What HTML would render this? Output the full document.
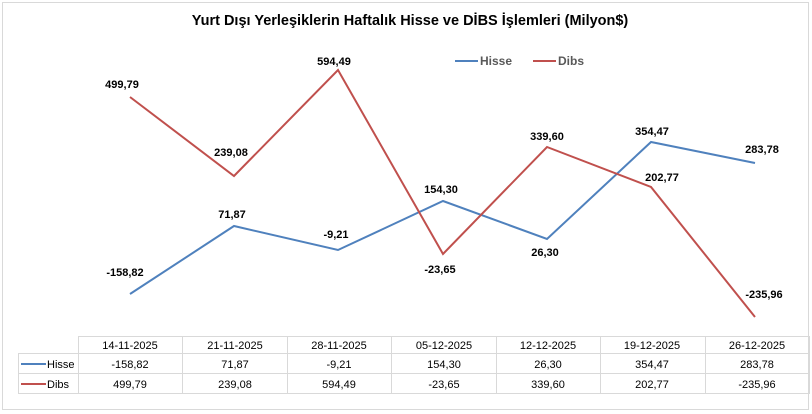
<!DOCTYPE html>
<html><head><meta charset="utf-8"><style>
body{margin:0;background:#fff;}
svg{display:block;font-family:"Liberation Sans",sans-serif;}
</style></head><body>
<svg width="812" height="414" viewBox="0 0 812 414">
<rect x="2.5" y="2.5" width="806" height="407" fill="#fff" stroke="#d9d9d9"/>
<text x="410" y="25" text-anchor="middle" font-size="14.5" font-weight="bold" fill="#000">Yurt Dışı Yerleşiklerin Haftalık Hisse ve DİBS İşlemleri (Milyon$)</text>
<line x1="455" y1="61" x2="478" y2="61" stroke="#4f81bd" stroke-width="2"/>
<text x="480" y="65" font-size="12" font-weight="bold" fill="#595959">Hisse</text>
<line x1="533" y1="61" x2="556" y2="61" stroke="#c0504d" stroke-width="2"/>
<text x="558" y="65" font-size="12" font-weight="bold" fill="#595959">Dibs</text>
<polyline fill="none" stroke="#4f81bd" stroke-width="2" points="130,294 234,226 338,250 443,201 547,239 651,142 755,163"/>
<polyline fill="none" stroke="#c0504d" stroke-width="2" points="130,97 234,176 338,70 443,254 547,147 651,187 755,317"/>
<g font-size="11" font-weight="bold" fill="#000" text-anchor="middle">
<text x="125" y="276">-158,82</text>
<text x="232" y="218">71,87</text>
<text x="336" y="238">-9,21</text>
<text x="441" y="193">154,30</text>
<text x="545" y="256">26,30</text>
<text x="652" y="135">354,47</text>
<text x="762" y="153">283,78</text>
<text x="122" y="88">499,79</text>
<text x="231" y="156">239,08</text>
<text x="334" y="65">594,49</text>
<text x="440" y="273">-23,65</text>
<text x="547" y="140">339,60</text>
<text x="662" y="181">202,77</text>
<text x="764" y="298">-235,96</text>
</g>
<g stroke="#d9d9d9" stroke-width="1" fill="none">
<line x1="78" y1="336.5" x2="810" y2="336.5"/>
<line x1="18" y1="353.5" x2="810" y2="353.5"/>
<line x1="18" y1="373.5" x2="810" y2="373.5"/>
<line x1="18" y1="393.5" x2="810" y2="393.5"/>
<line x1="18.5" y1="353" x2="18.5" y2="394"/>
<line x1="78.5" y1="336" x2="78.5" y2="394"/>
<line x1="182.5" y1="336" x2="182.5" y2="394"/>
<line x1="287.5" y1="336" x2="287.5" y2="394"/>
<line x1="391.5" y1="336" x2="391.5" y2="394"/>
<line x1="496.5" y1="336" x2="496.5" y2="394"/>
<line x1="600.5" y1="336" x2="600.5" y2="394"/>
<line x1="705.5" y1="336" x2="705.5" y2="394"/>
<line x1="809.5" y1="336" x2="809.5" y2="394"/>
</g>
<line x1="21" y1="364" x2="46" y2="364" stroke="#4f81bd" stroke-width="2"/>
<text x="47" y="368" font-size="11" fill="#000">Hisse</text>
<line x1="21" y1="384" x2="46" y2="384" stroke="#c0504d" stroke-width="2"/>
<text x="47" y="388" font-size="11" fill="#000">Dibs</text>
<g font-size="11" fill="#000" text-anchor="middle">
<text x="130" y="349">14-11-2025</text><text x="235" y="349">21-11-2025</text><text x="339" y="349">28-11-2025</text><text x="444" y="349">05-12-2025</text><text x="548" y="349">12-12-2025</text><text x="652" y="349">19-12-2025</text><text x="757" y="349">26-12-2025</text>
<text x="130" y="368">-158,82</text><text x="235" y="368">71,87</text><text x="339" y="368">-9,21</text><text x="444" y="368">154,30</text><text x="548" y="368">26,30</text><text x="652" y="368">354,47</text><text x="757" y="368">283,78</text>
<text x="130" y="388">499,79</text><text x="235" y="388">239,08</text><text x="339" y="388">594,49</text><text x="444" y="388">-23,65</text><text x="548" y="388">339,60</text><text x="652" y="388">202,77</text><text x="757" y="388">-235,96</text>
</g>
</svg>
</body></html>
